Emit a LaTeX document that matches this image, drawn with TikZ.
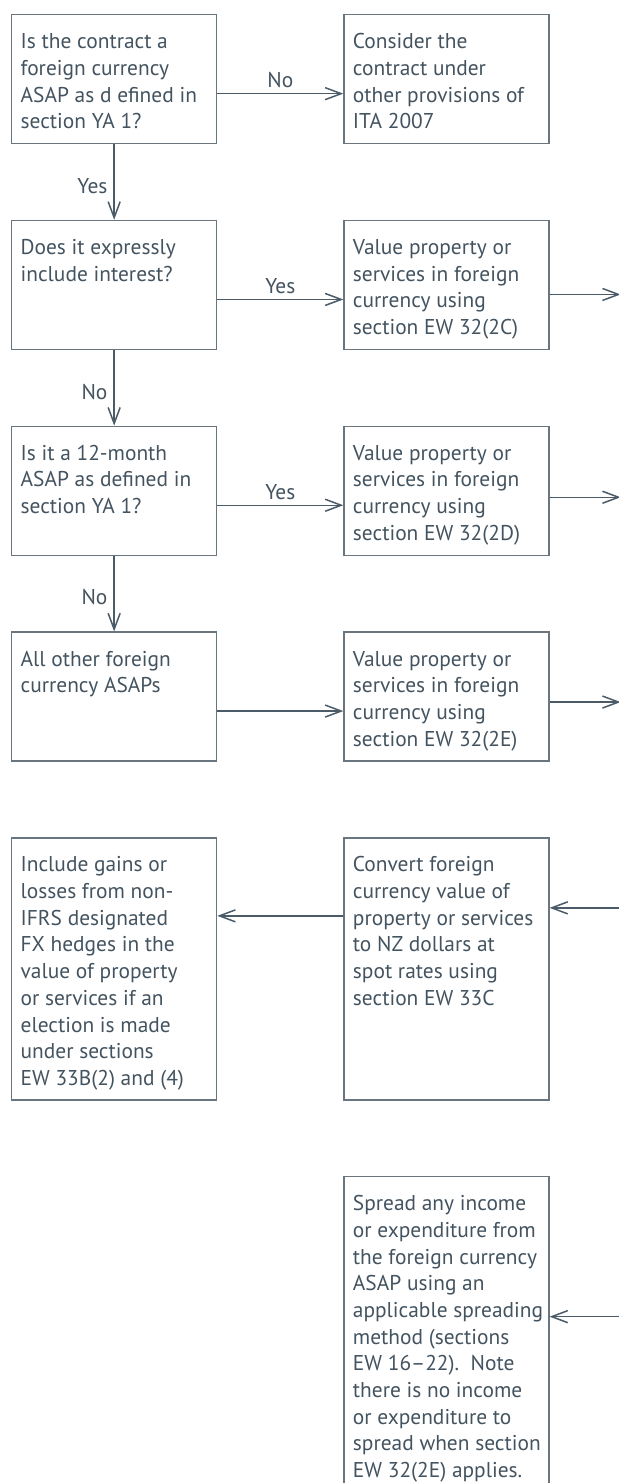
\documentclass[tikz,border=0pt]{standalone}
\usepackage{fontspec}
\setmainfont{PT Sans}
\usetikzlibrary{arrows.meta, positioning}

\definecolor{txtcol}{RGB}{67,83,95}
\definecolor{boxcol}{RGB}{105,118,128}
\definecolor{arrcol}{RGB}{75,91,103}

\newcommand{\boxfont}{\fontsize{10.7pt}{13.35pt}\selectfont}
\renewcommand{\arraystretch}{1}
\newcommand{\boxlines}[1]{\makebox[93.5pt][l]{\begin{tabular}[t]{@{}l@{}}#1\end{tabular}}}

\begin{document}
\begin{tikzpicture}[
	node distance=37.75pt and 63pt,
	box/.style={rectangle, draw=boxcol, line width=0.65pt, inner xsep=4.5pt, inner ysep=0pt, minimum width=102.5pt, text height=17pt, text depth=47.5pt, font=\boxfont, text=txtcol},
	tallbox/.style={box, text depth=114pt},
	arrow/.style={-{Straight Barb[length=8pt,width=6pt]}, draw=arrcol, line width=0.75pt},
	answer/.style={font=\boxfont, text=txtcol, inner sep=1pt}
	]
	
	\clip (-5.5pt,7pt) rectangle (304pt,-734.5pt);
	
	% Left column - questions
	\node[box, anchor=north west] (asap) at (0,0) {\boxlines{Is the contract a\\ foreign currency\\ ASAP as d efined in\\ section YA 1?}};
	\node[box, below=of asap] (interest) {\boxlines{Does it expressly\\ include interest?}};
	\node[box, below=of interest] (twelve) {\boxlines{Is it a 12-month\\ ASAP as defined in\\ section YA 1?}};
	\node[box, below=of twelve] (rest) {\boxlines{All other foreign\\ currency ASAPs}};
	\node[tallbox, below=of rest] (hedges) {\boxlines{Include gains or\\ losses from non-\\ IFRS designated\\ FX hedges in the\\ value of property\\ or services if an\\ election is made\\ under sections\\ EW 33B(2) and (4)}};
	
	% Right column - outcomes
	\node[box, right=of asap] (other) {\boxlines{Consider the\\ contract under\\ other provisions of\\ ITA 2007}};
	\node[box, right=of interest] (value2c) {\boxlines{Value property or\\ services in foreign\\ currency using\\ section EW 32(2C)}};
	\node[box, right=of twelve] (value2d) {\boxlines{Value property or\\ services in foreign\\ currency using\\ section EW 32(2D)}};
	\node[box, right=of rest] (value2e) {\boxlines{Value property or\\ services in foreign\\ currency using\\ section EW 32(2E)}};
	\node[tallbox, right=of hedges] (convert) {\boxlines{Convert foreign\\ currency value of\\ property or services\\ to NZ dollars at\\ spot rates using\\ section EW 33C}};
	\node[box, text depth=145pt, below=of convert] (spread) {\boxlines{Spread any income\\ or expenditure from\\ the foreign currency\\ ASAP using an\\ applicable spreading\\ method (sections\\ EW 16--22).\ \ Note\\ there is no income\\ or expenditure to\\ spread when section\\ EW 32(2E) applies.}};
	
	% Free ends at the right edge
	\coordinate (out2c) at ([xshift=35.5pt,yshift=-4.75pt]value2c.east);
	\coordinate (out2d) at ([xshift=35.5pt,yshift=-3.25pt]value2d.east);
	\coordinate (out2e) at ([xshift=35.5pt,yshift=-2.75pt]value2e.east);
	\coordinate (inconv) at ([xshift=36pt,yshift=30.5pt]convert.east);
	\coordinate (inspread) at ([xshift=36pt,yshift=11pt]spread.east);
	
	% Down the questions
	\draw[arrow] (asap) -- node[answer, left=2pt, pos=0.55] {Yes} (interest);
	\draw[arrow] (interest) -- node[answer, left=2pt, pos=0.55] {No} (twelve);
	\draw[arrow] (twelve) -- node[answer, left=2pt, pos=0.55] {No} (rest);
	
	% Across to the outcomes
	\draw[arrow] ([yshift=-7.25pt]asap.east) -- node[answer, above=1.5pt] {No} ([yshift=-7.25pt]other.west);
	\draw[arrow] ([yshift=-7.25pt]interest.east) -- node[answer, above=1.5pt] {Yes} ([yshift=-7.25pt]value2c.west);
	\draw[arrow] ([yshift=-7.25pt]twelve.east) -- node[answer, above=1.5pt] {Yes} ([yshift=-7.25pt]value2d.west);
	\draw[arrow] ([yshift=-7.25pt]rest.east) -- ([yshift=-7.25pt]value2e.west);
	
	% Off and onto the page
	\draw[arrow] ([yshift=-4.75pt]value2c.east) -- (out2c);
	\draw[arrow] ([yshift=-3.25pt]value2d.east) -- (out2d);
	\draw[arrow] ([yshift=-2.75pt]value2e.east) -- (out2e);
	\draw[arrow] (inconv) -- ([yshift=30.5pt]convert.east);
	\draw[arrow] ([yshift=26.5pt]convert.west) -- ([yshift=26.5pt]hedges.east);
	\draw[arrow] (inspread) -- ([yshift=11pt]spread.east);
	
\end{tikzpicture}
\end{document}
